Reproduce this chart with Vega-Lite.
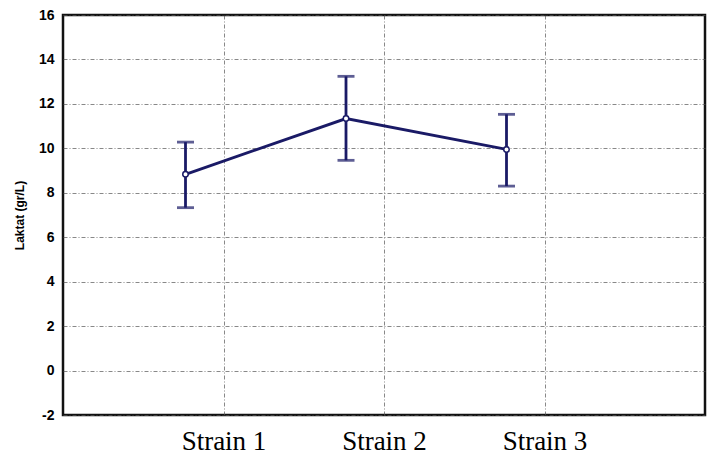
{
  "$schema": "https://vega.github.io/schema/vega-lite/v6.json",
  "autosize": {"type": "none"},
  "padding": {"left": 63, "top": 15, "right": 7, "bottom": 44},
  "width": 642,
  "height": 400,
  "background": "white",
  "config": {
    "view": {"stroke": "#111111", "strokeWidth": 2.5},
    "axis": {"gridColor": "#555555", "gridDash": [4, 2, 1, 2], "gridWidth": 1, "gridOpacity": 0.7, "domain": false, "ticks": false}
  },
  "data": {
    "values": [
      {"strain": "Strain 1", "mean": 8.83, "lo": 7.33, "hi": 10.28},
      {"strain": "Strain 2", "mean": 11.34, "lo": 9.46, "hi": 13.24},
      {"strain": "Strain 3", "mean": 9.95, "lo": 8.3, "hi": 11.53}
    ]
  },
  "encoding": {
    "x": {
      "field": "strain", "type": "nominal", "sort": null,
      "scale": {"type": "point", "padding": 1},
      "axis": {"title": null, "grid": true, "labelAngle": 0, "labelFont": "Liberation Serif", "labelFontSize": 27, "labelColor": "#000000", "labelPadding": 13, "labelDx": -26}
    }
  },
  "layer": [
    {
      "mark": {"type": "rule", "color": "#1a1a66", "strokeWidth": 2.8, "xOffset": -38},
      "encoding": {
        "y": {"field": "lo", "type": "quantitative",
          "scale": {"domain": [-2, 16], "nice": false, "zero": false},
          "axis": {"title": "Laktat (gr/L)", "values": [-2, 0, 2, 4, 6, 8, 10, 12, 14, 16], "labelExpr": "replace(datum.label, '\u2212', '-')", "grid": true, "labelFont": "Liberation Sans", "labelFontWeight": "bold", "labelFontSize": 14, "labelColor": "#000000", "labelPadding": 9, "titleFont": "Liberation Sans", "titleFontWeight": "bold", "titleFontSize": 12, "titleColor": "#000000", "titlePadding": 12}},
        "y2": {"field": "hi"}
      }
    },
    {
      "mark": {"type": "tick", "color": "#1a1a66", "thickness": 2.8, "size": 17, "xOffset": -38},
      "encoding": {"y": {"field": "lo", "type": "quantitative"}}
    },
    {
      "mark": {"type": "tick", "color": "#1a1a66", "thickness": 2.8, "size": 17, "xOffset": -38},
      "encoding": {"y": {"field": "hi", "type": "quantitative"}}
    },
    {
      "mark": {"type": "line", "color": "#1a1a66", "strokeWidth": 2.8, "xOffset": -38},
      "encoding": {"y": {"field": "mean", "type": "quantitative"}}
    },
    {
      "mark": {"type": "point", "shape": "circle", "filled": true, "fill": "white", "stroke": "#1a1a66", "strokeWidth": 1.5, "size": 30, "opacity": 1, "xOffset": -38},
      "encoding": {"y": {"field": "mean", "type": "quantitative"}}
    }
  ]
}
